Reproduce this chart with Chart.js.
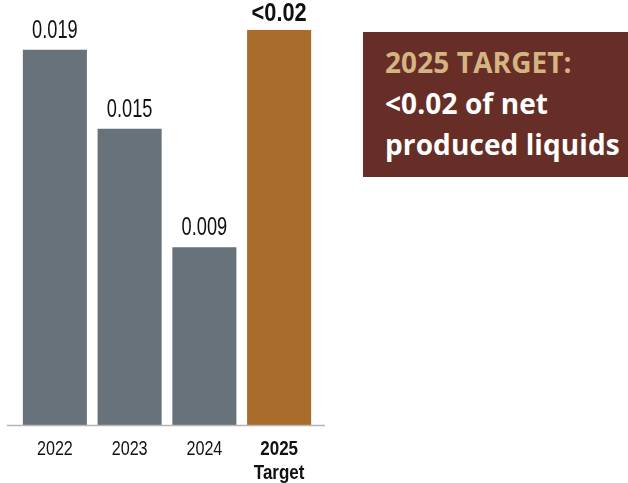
<!DOCTYPE html>
<html>
<head>
<meta charset="utf-8">
<script src="https://cdn.jsdelivr.net/npm/chart.js@4.4.1/dist/chart.umd.min.js"></script>
<style>
  html, body { margin: 0; padding: 0; background: #ffffff; }
  #wrap { position: relative; width: 628px; height: 483px; overflow: hidden; }
  #chart { position: absolute; left: 0; top: 0; }
  #target-box {
    position: absolute; left: 363px; top: 32px; width: 265px; height: 145px;
    background: #662e26; box-sizing: border-box; padding: 10px 0 0 22px;
    font-family: "Open Sans", sans-serif; font-weight: 700; font-size: 28px;
    line-height: 41px; color: #ffffff; letter-spacing: 0.1px; white-space: nowrap;
  }
  #target-box .head { color: #d5b483; }
</style>
</head>
<body>
<div id="wrap">
  <canvas id="chart" width="628" height="483"></canvas>
  <div id="target-box"><div class="head">2025 TARGET:</div><div>&lt;0.02 of net</div><div>produced liquids</div></div>
</div>
<script>
// Spill volume per year, with the 2025 target as the last bar
const categories = [["2022"], ["2023"], ["2024"], ["2025", "Target"]];
const values = [0.019, 0.015, 0.009, 0.02];
const valueLabels = ["0.019", "0.015", "0.009", "<0.02"];
const barColors = ["#67727a", "#67727a", "#67727a", "#a96c2b"];

const SANS = '"Liberation Sans", Arial, sans-serif';

// Draws a line of text squeezed horizontally, for a condensed look
function narrowText(ctx, text, x, y, font, squeeze) {
  ctx.save();
  ctx.translate(x, y);
  ctx.scale(squeeze, 1);
  ctx.font = font;
  ctx.textAlign = "center";
  ctx.textBaseline = "alphabetic";
  ctx.fillText(text, 0, 0);
  ctx.restore();
}

// Writes the value above each bar
const valueLabelPlugin = {
  id: "valueLabels",
  afterDatasetsDraw(chart) {
    const ctx = chart.ctx;
    const meta = chart.getDatasetMeta(0);
    ctx.save();
    ctx.fillStyle = "#111111";
    meta.data.forEach((bar, i) => {
      const last = i === values.length - 1;
      if (last) {
        narrowText(ctx, valueLabels[i], bar.x, bar.y - 9, "bold 25px " + SANS, 0.87);
      } else {
        narrowText(ctx, valueLabels[i], bar.x, bar.y - 12, "26px " + SANS, 0.70);
      }
    });
    ctx.restore();
  }
};

// Category labels under the baseline, placed by the x scale
const categoryLabelPlugin = {
  id: "categoryLabels",
  afterDraw(chart) {
    const ctx = chart.ctx;
    const xs = chart.scales.x;
    const base = chart.scales.y.getPixelForValue(0);
    ctx.save();
    ctx.fillStyle = "#111111";
    categories.forEach((lines, i) => {
      const x = xs.getPixelForValue(i);
      const last = i === categories.length - 1;
      lines.forEach((line, j) => {
        const y = base + 30 + j * 24;
        if (last) {
          narrowText(ctx, line, x, y, "bold 21px " + SANS, 0.81);
        } else {
          narrowText(ctx, line, x, y, "21px " + SANS, 0.77);
        }
      });
    });
    ctx.restore();
  }
};

// Thin grey baseline running a little past the bars
const baselinePlugin = {
  id: "baseline",
  afterDatasetsDraw(chart) {
    const ctx = chart.ctx;
    const y = chart.scales.y.getPixelForValue(0) + 0.5;
    ctx.save();
    ctx.strokeStyle = "#b5b5b5";
    ctx.lineWidth = 1.5;
    ctx.beginPath();
    ctx.moveTo(7, y);
    ctx.lineTo(325, y);
    ctx.stroke();
    ctx.restore();
  }
};

new Chart(document.getElementById("chart"), {
  type: "bar",
  data: {
    labels: categories.map(l => l.join(" ")),
    datasets: [{
      data: values,
      backgroundColor: barColors,
      borderWidth: 0,
      barPercentage: 0.857,
      categoryPercentage: 1.0
    }]
  },
  options: {
    responsive: false,
    animation: false,
    layout: { padding: { left: 17.5, right: 311.5, top: 30, bottom: 0 } },
    plugins: { legend: { display: false }, tooltip: { enabled: false } },
    scales: {
      x: {
        grid: { display: false },
        border: { display: false },
        ticks: { display: false },
        afterFit(scale) { scale.height = 58; }
      },
      y: {
        display: false,
        min: 0,
        max: 0.02
      }
    }
  },
  plugins: [valueLabelPlugin, categoryLabelPlugin, baselinePlugin]
});
</script>
</body>
</html>
